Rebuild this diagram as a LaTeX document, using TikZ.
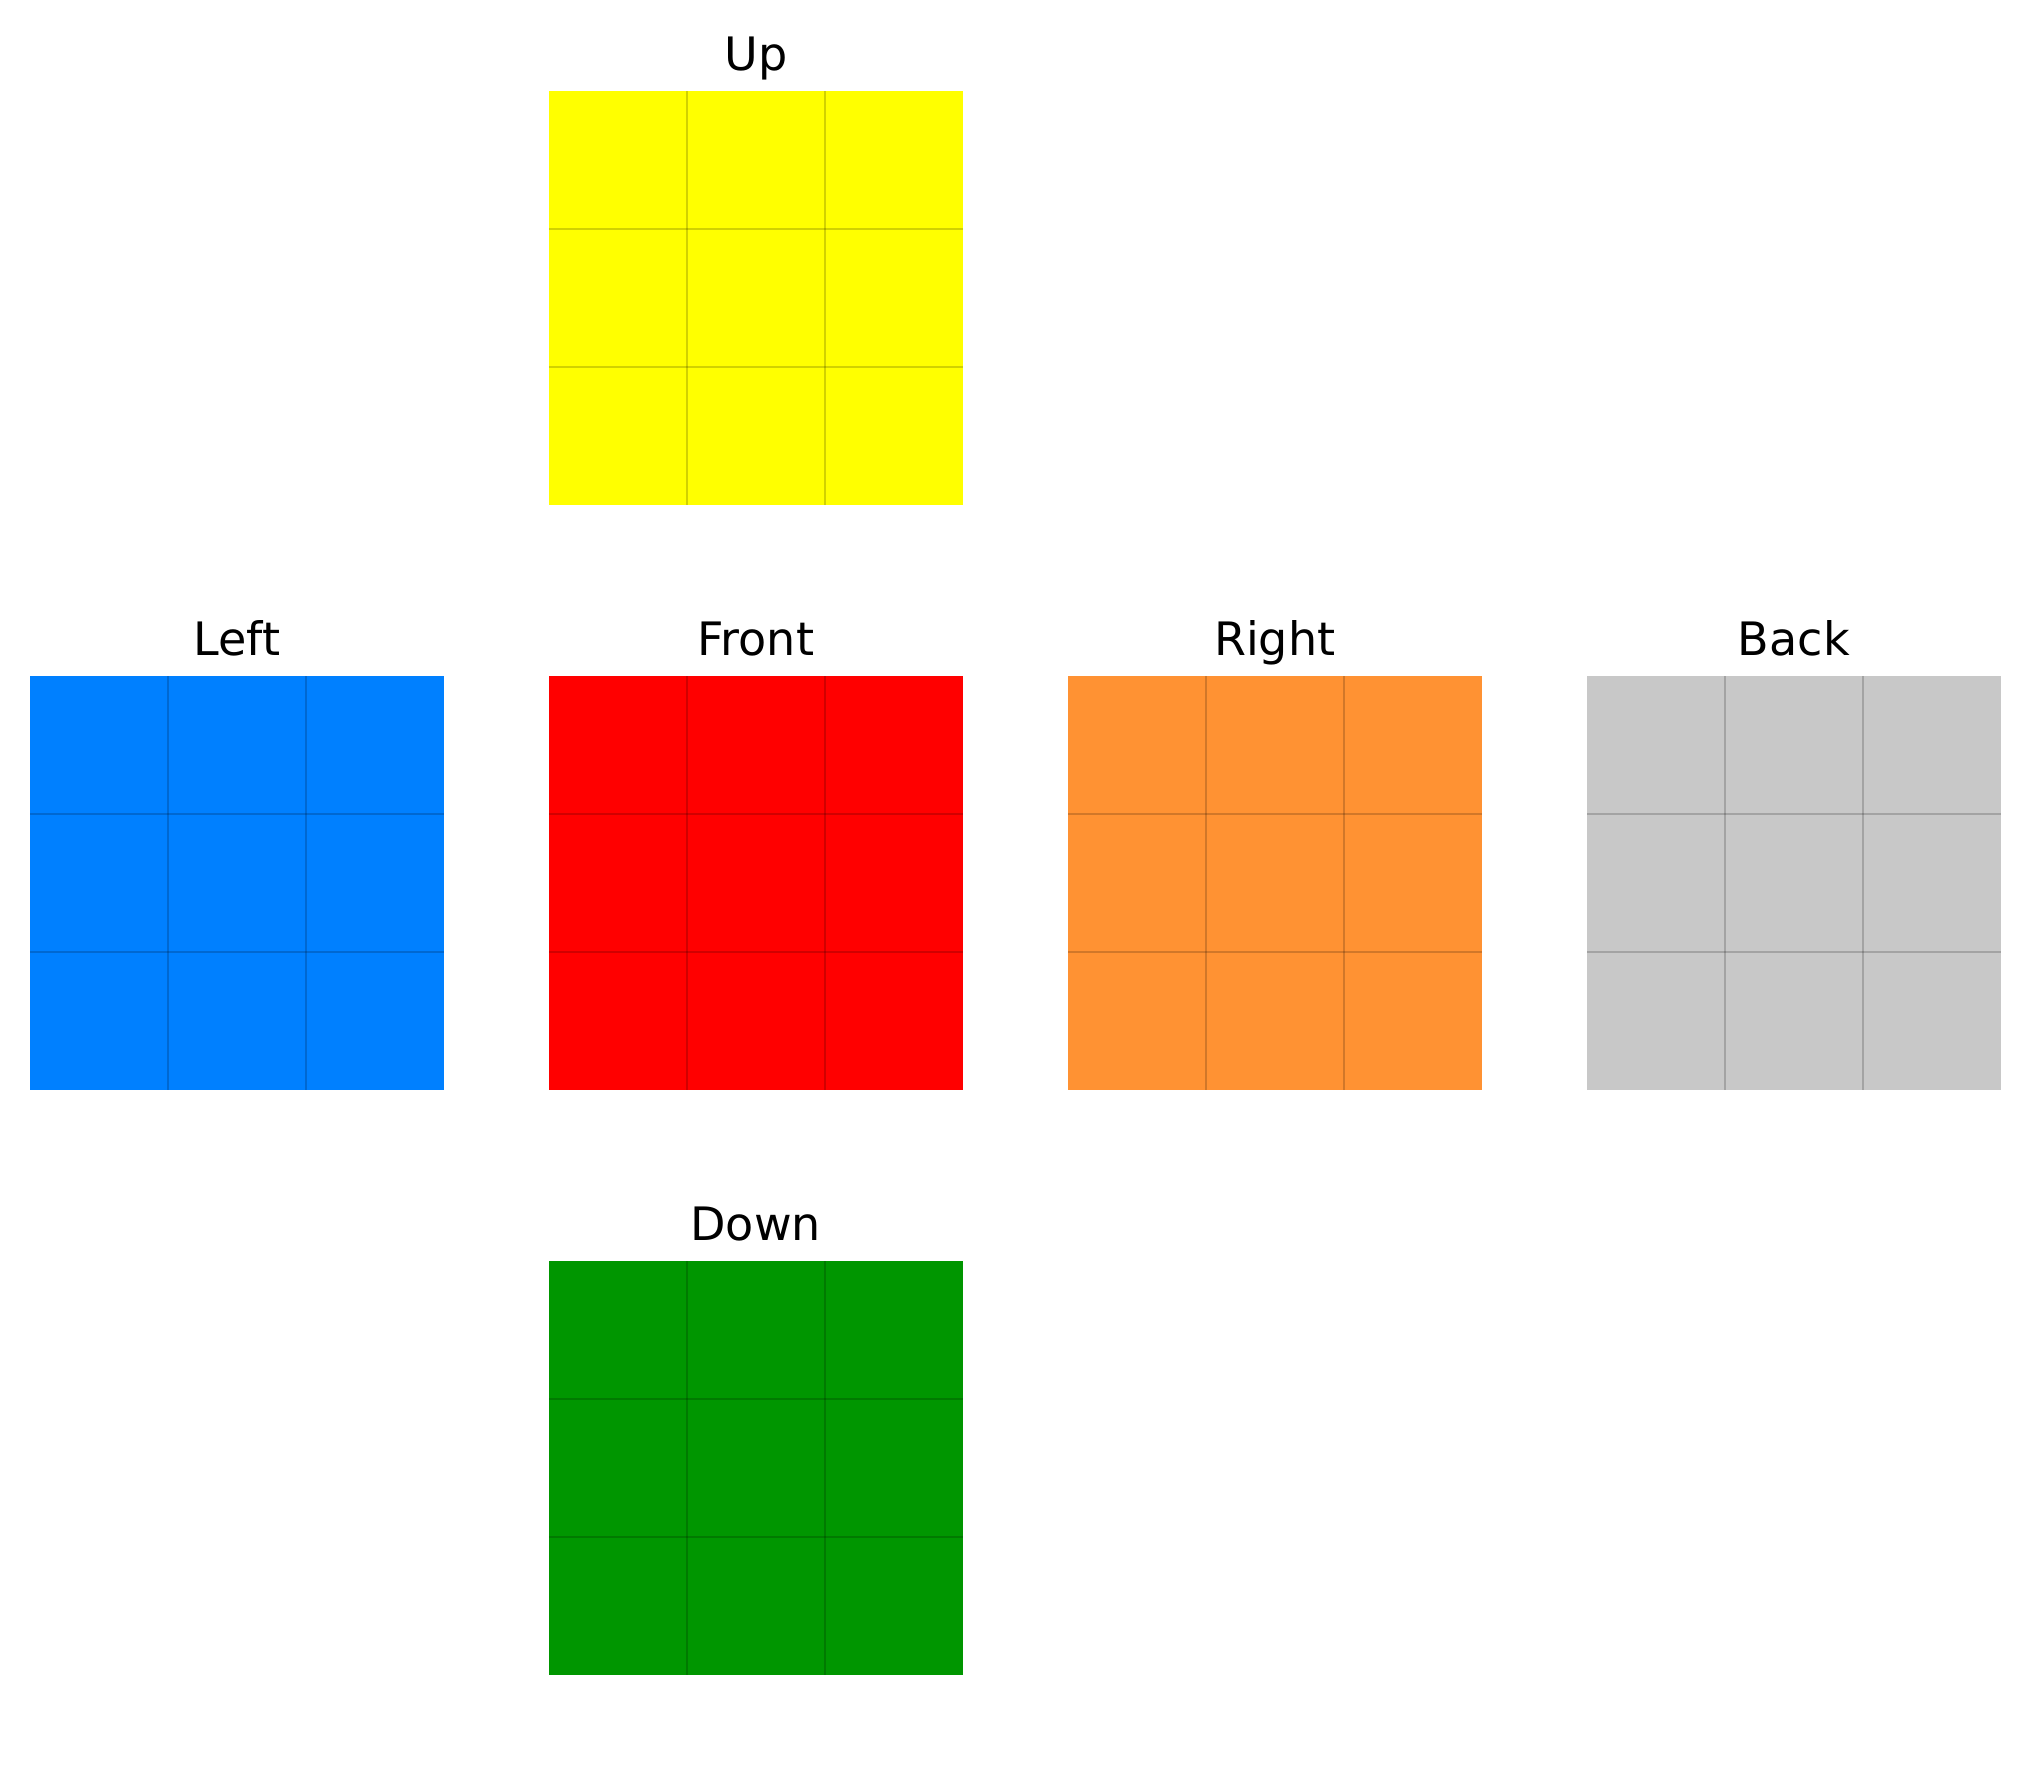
\documentclass[tikz,border=0pt]{standalone}
\usepackage{fontspec}
\setmainfont{DejaVu Sans}
\usetikzlibrary{calc}

\definecolor{upyellow}{HTML}{FFFF00}
\definecolor{leftblue}{HTML}{0080FF}
\definecolor{frontred}{HTML}{FF0000}
\definecolor{rightorange}{HTML}{FF9233}
\definecolor{backgrey}{HTML}{C8C8C8}
\definecolor{downgreen}{HTML}{009600}

\begin{document}
\begin{tikzpicture}[
    x=0.01cm, y=-0.01cm,
    face/.style={minimum size=4.133cm, inner sep=0pt, outer sep=0pt,
                 anchor=north west},
    facelabel/.style={anchor=base, font=\fontsize{13.1}{16}\selectfont},
    gridline/.style={draw=black, opacity=0.18, line width=0.6pt},
]
    \useasboundingbox (0,0) rectangle (2028,1766);
    % faces of the unfolded cube
    \foreach \name/\lbl/\fx/\fy/\col in {
        up/Up/549/91/upyellow,
        left/Left/30/676/leftblue,
        front/Front/549/676/frontred,
        right/Right/1068/676/rightorange,
        back/Back/1587/676/backgrey,
        down/Down/549/1261/downgreen}{
        \node[face, fill=\col] (\name) at (\fx,\fy) {};
        \node[facelabel] (\name-label) at ([yshift=0.205cm]\name.north) {\lbl};
        % 3x3 stickers
        \foreach \k in {1,2}{
            \draw[gridline] ($(\name.north west)!\k/3!(\name.north east)$)
                -- ($(\name.south west)!\k/3!(\name.south east)$);
            \draw[gridline] ($(\name.north west)!\k/3!(\name.south west)$)
                -- ($(\name.north east)!\k/3!(\name.south east)$);
        }
    }
\end{tikzpicture}
\end{document}
